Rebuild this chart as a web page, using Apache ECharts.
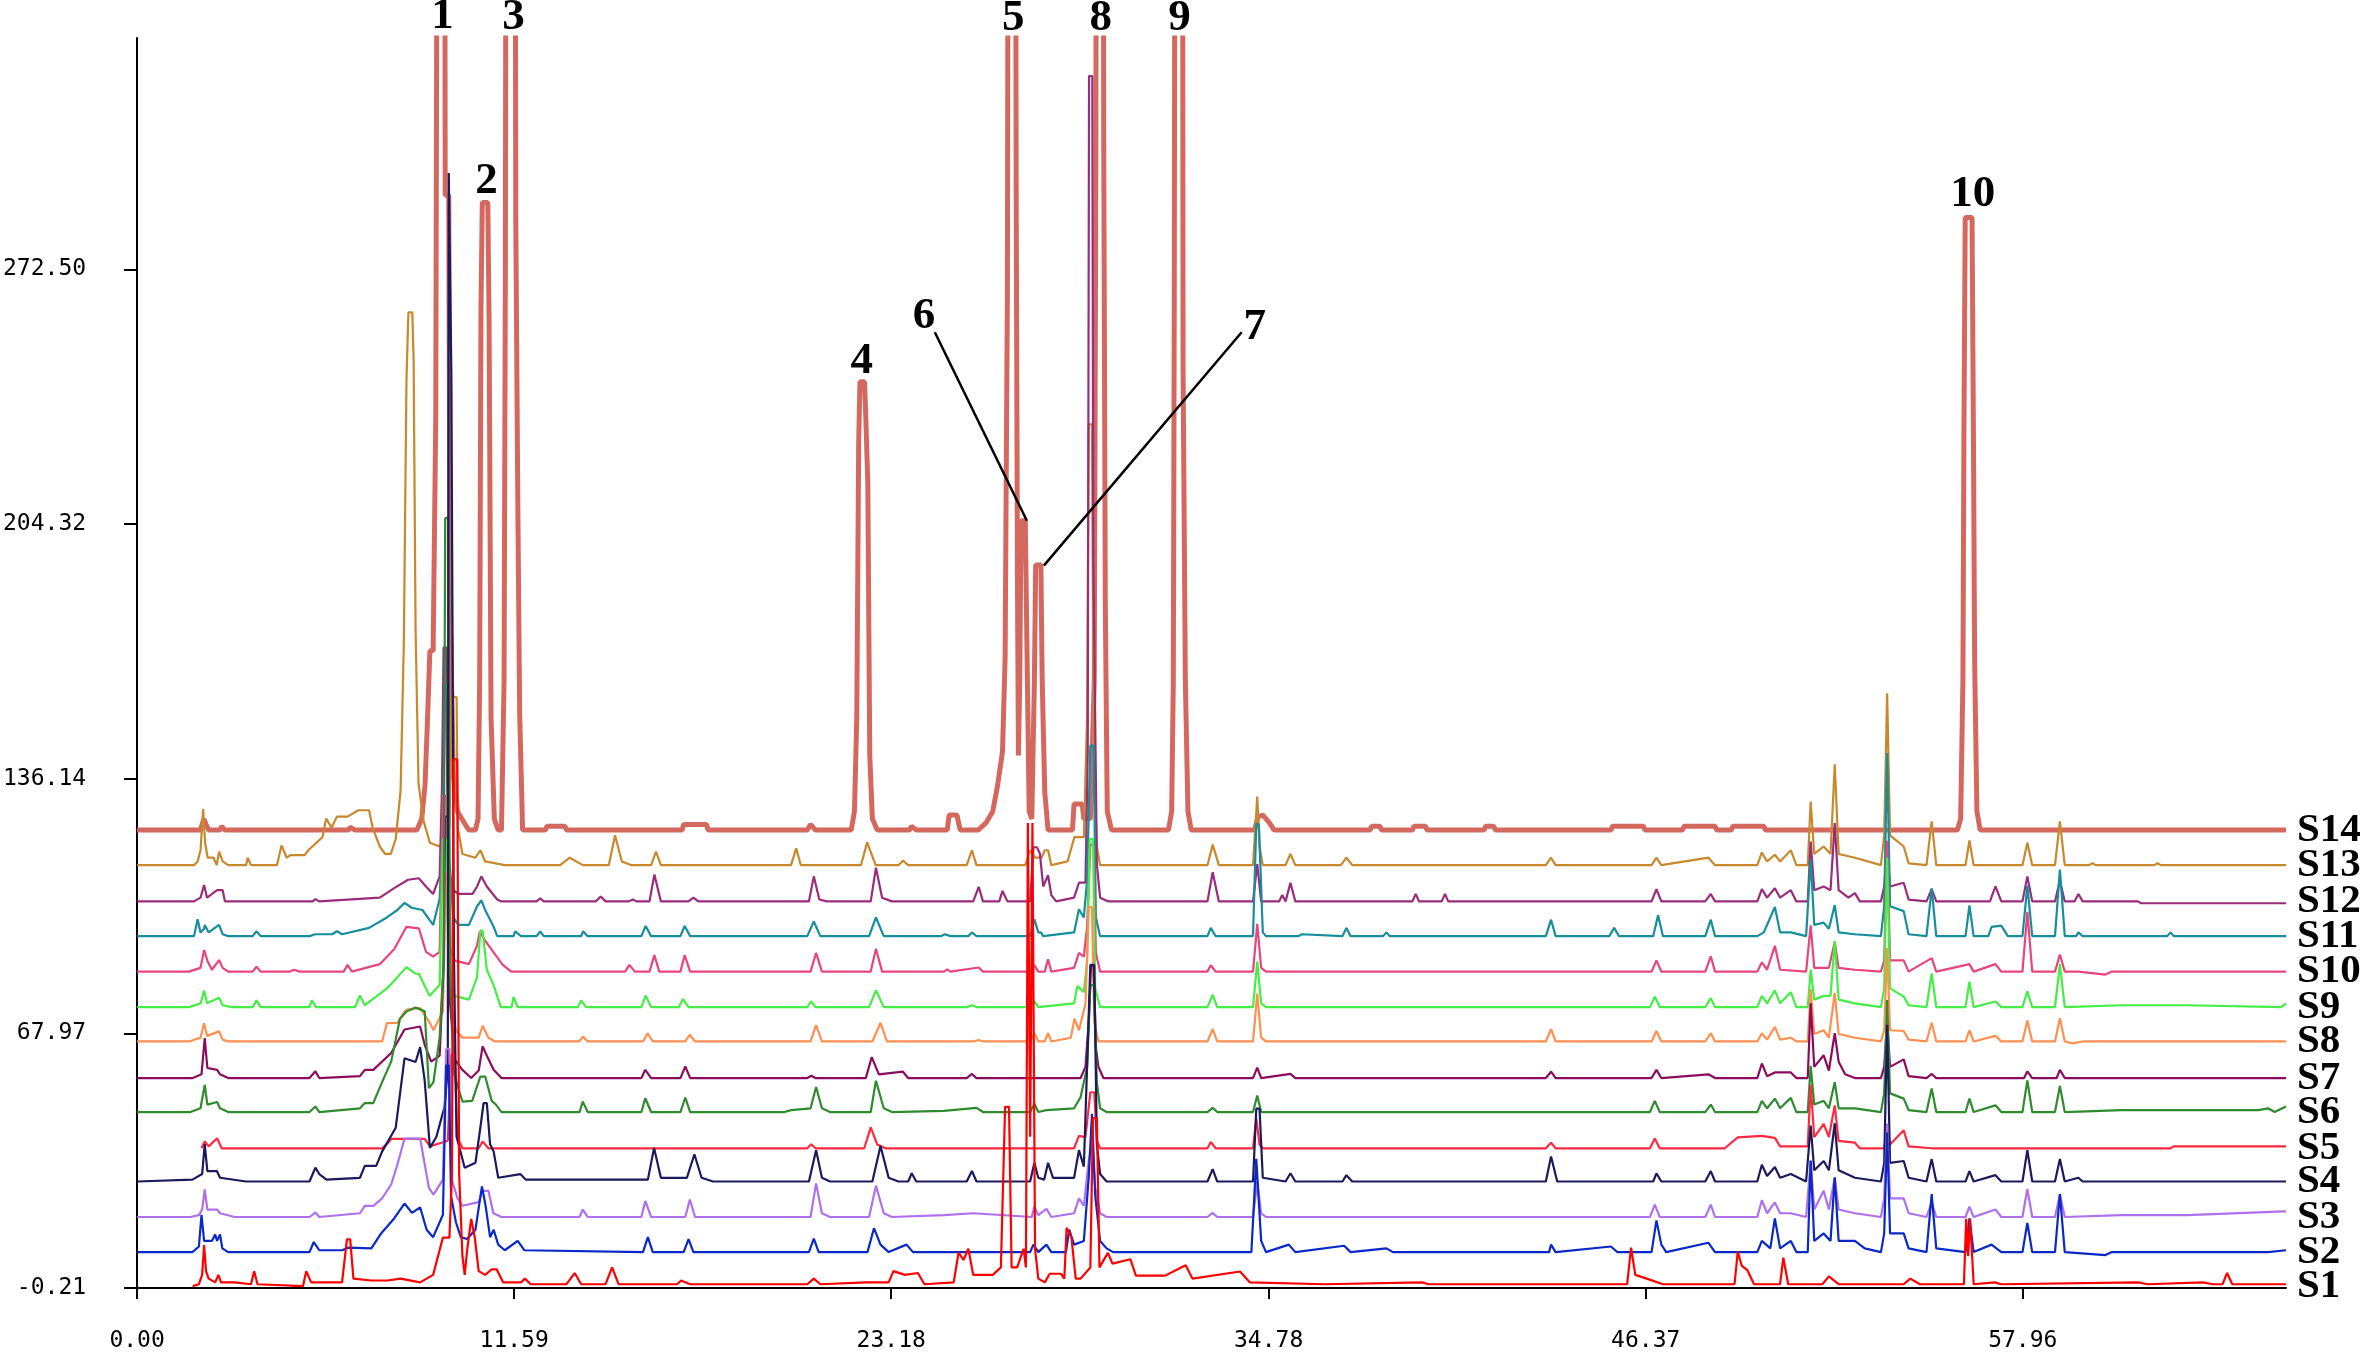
<!DOCTYPE html>
<html>
<head>
<meta charset="utf-8">
<title>HPLC fingerprints S1-S14</title>
<script src="https://cdn.jsdelivr.net/npm/echarts@6.0.0/dist/echarts.min.js"></script>
<style>
  html, body { margin: 0; padding: 0; background: #fff; }
  #chart { width: 2362px; height: 1353px; }
</style>
</head>
<body>
<div id="chart"></div>
<script>
// axis ticks as printed on the original
const xTicks = [0, 11.59, 23.18, 34.78, 46.37, 57.96];
const yTicks = [-0.21, 67.97, 136.14, 204.32, 272.50];
const xMax = 66.05;
const yMin = -0.21;
const yMax = 334.47;

const sampleNames = ['S1', 'S2', 'S3', 'S4', 'S5', 'S6', 'S7', 'S8', 'S9', 'S10', 'S11', 'S12', 'S13', 'S14'];
// vertical offset of each chromatogram
const baselines = [0.3, 9.4, 18.8, 28.3, 37.2, 46.9, 56.0, 65.8, 75.0, 84.5, 94.0, 103.3, 113.0, 122.4];
const colors = ['#ff0000', '#0a28c8', '#b070ec', '#1a1a5c', '#ff2a40', '#2e8b2e', '#8b0c5e',
  '#ff9050', '#44ee44', '#e8447e', '#168e9c', '#9a2c7c', '#c8882c', '#d4685f'];

// [retention time (min), signal above own baseline]
const s1 = [[1.71,0],[1.9,0.5],[2.0,3],[2.06,11],[2.12,4],[2.2,2],[2.4,1],[2.5,3],[2.58,1],[3.0,1],[3.5,0.5],[3.6,4],[3.7,0.5],[5.1,0],[5.2,4],[5.35,1],[6.3,1],[6.45,12.5],[6.55,12.5],[6.65,2],[7.2,1.5],[7.7,1.5],[8.1,2],[8.7,1],[9.1,3],[9.4,13],[9.6,13],[9.68,30],[9.72,141],[9.84,141],[9.9,30],[10.0,8],[10.07,3],[10.15,10],[10.27,18],[10.38,13],[10.5,4],[10.7,3],[10.9,4.5],[11.05,4.5],[11.25,1],[11.8,1],[11.92,2],[12.1,0.5],[13.2,0.5],[13.45,3.5],[13.65,0.5],[14.4,0.5],[14.6,5],[14.8,0.5],[16.6,0.5],[16.72,1.5],[17.0,0.5],[20.6,0.5],[20.8,2],[21.0,0.5],[22.4,1],[23.1,1],[23.25,4],[23.6,3],[24.0,3.5],[24.2,0.5],[25.1,1],[25.25,9],[25.4,7],[25.55,10],[25.7,3],[26.3,3],[26.55,5],[26.68,48],[26.8,48],[26.88,5],[27.05,5],[27.25,10],[27.32,5],[27.38,124],[27.45,40],[27.52,124],[27.6,10],[27.7,2],[27.9,1],[28.05,3.3],[28.4,3.3],[28.5,2],[28.57,15.6],[28.72,13],[28.85,2],[29.0,2],[29.3,5],[29.38,45],[29.5,45],[29.58,5],[29.84,8.9],[29.98,6],[30.53,7.2],[30.7,2.8],[31.6,2.8],[32.23,5.6],[32.44,2],[33.9,3.9],[34.2,1],[36.5,0.5],[39.5,1],[39.7,0.5],[45.8,0.5],[45.92,10.3],[46.05,3],[46.4,2],[46.9,0.5],[49.1,0.5],[49.2,9.2],[49.32,5.5],[49.5,4.2],[49.7,0.5],[50.5,0.5],[50.6,7.6],[50.75,0.5],[51.8,0.5],[52.0,2.6],[52.3,0.5],[54.3,0.5],[54.5,2],[54.8,0.5],[56.15,0.5],[56.22,18],[56.28,8],[56.34,18],[56.45,0.5],[57.1,1],[57.3,0.5],[61.5,1],[61.8,0.5],[63.5,1],[63.8,0.5],[64.1,0.5],[64.24,3.5],[64.4,0.5],[66.05,0.5]];

const s2 = [[0,0],[1.7,0],[1.9,1.5],[1.98,10],[2.06,3],[2.3,3],[2.4,4.7],[2.46,3],[2.55,4.7],[2.62,1],[2.8,0],[5.3,0],[5.43,2.7],[5.6,0.5],[6.3,0.5],[6.5,1.2],[7.2,1],[7.5,5],[7.9,9],[8.22,13],[8.45,10.5],[8.7,12],[8.9,6],[9.1,4],[9.4,10],[9.5,50],[9.58,50],[9.65,15],[9.8,8],[9.95,4],[10.14,3.5],[10.4,6],[10.6,17.6],[10.72,12],[10.85,4],[10.96,6],[11.1,2],[11.3,0.5],[11.7,3],[11.9,0.5],[15.55,0],[15.7,4],[15.85,0],[16.8,0],[16.95,3.5],[17.1,0],[20.65,0],[20.8,3.6],[20.95,0],[22.45,0],[22.65,6.4],[22.85,2],[23.1,0],[23.65,2],[23.85,0],[27.45,0],[27.55,2],[27.7,0],[27.95,2],[28.1,0],[28.55,0],[28.65,6],[28.8,2],[29.1,3],[29.25,20],[29.35,37],[29.45,15],[29.6,3],[29.8,1],[30.0,0],[34.25,0],[34.4,25],[34.55,3],[34.7,0],[35.4,2],[35.6,0],[37.1,1.7],[37.3,0],[38.4,1],[38.6,0],[43.4,0],[43.46,2],[43.6,0],[45.3,1.5],[45.5,0],[46.55,0],[46.7,8.5],[46.85,2],[47.0,0],[48.3,2.5],[48.5,0],[49.8,0],[49.94,3],[50.2,1],[50.34,9],[50.5,1],[50.83,3],[51.0,0],[51.35,0],[51.44,24.5],[51.55,3],[51.84,5],[52.05,3],[52.18,20],[52.3,3],[52.8,3],[53.1,1],[53.6,0],[53.7,5],[53.79,32],[53.88,5],[54.3,5],[54.45,1],[55.0,0],[55.16,15.5],[55.3,1],[56.2,0],[56.32,9],[56.45,0],[57.0,2],[57.3,0],[57.95,0],[58.1,7.8],[58.25,0],[58.95,0],[59.1,15.5],[59.25,0],[60.5,-0.8],[60.7,0],[65.5,0],[66.05,0.5]];

const s3 = [[0,0],[1.64,0],[1.9,0.5],[2.0,2],[2.08,7.4],[2.16,2],[2.46,2],[2.55,1],[3.0,0],[5.3,0],[5.48,1.2],[5.6,0],[6.85,1],[7.0,3],[7.26,3],[7.53,5],[7.81,8.7],[8.0,14],[8.22,21],[8.7,21],[8.97,7.8],[9.11,6],[9.4,10],[9.5,45],[9.6,45],[9.67,10],[9.85,5],[10.0,3],[10.5,4],[10.62,7],[10.8,7],[10.95,1],[11.2,0],[13.6,0],[13.7,2],[13.85,0],[15.5,0],[15.62,4.3],[15.8,0],[16.85,0],[16.99,4.7],[17.15,0],[20.7,0],[20.87,9],[21.05,1],[21.3,0],[22.5,0],[22.71,8.4],[22.95,1],[23.2,0],[24.8,0.5],[25.7,1],[27.5,0],[27.58,2.8],[27.7,0.5],[27.95,2.2],[28.1,0],[28.8,1],[28.95,5],[29.1,3],[29.25,15],[29.35,20],[29.45,8],[29.6,1],[29.8,0],[32.9,0],[33.06,1.1],[33.2,0],[34.3,0],[34.43,9.5],[34.55,1],[34.7,0],[46.5,0],[46.65,3.3],[46.8,0],[48.2,0],[48.37,3.3],[48.5,0],[49.8,0],[49.94,4.5],[50.1,1],[50.34,3.9],[50.5,1],[50.83,1],[51.3,0],[51.44,15],[51.55,2],[51.84,7],[52.0,2],[52.18,10.5],[52.3,2],[52.8,1],[53.6,0],[53.7,5],[53.79,25],[53.88,5],[54.3,5],[54.45,1],[55.0,0],[55.16,3.9],[55.3,0],[56.2,0],[56.32,2.8],[56.45,0],[57.12,2],[57.3,0],[57.95,0],[58.1,7.5],[58.25,0],[58.95,0],[59.1,6],[59.25,0],[61.0,0.5],[63.0,0.5],[66.0,1.5],[66.05,1.5]];

const s4 = [[0,0],[1.7,0.5],[2.0,2],[2.08,10],[2.16,2.8],[2.45,2.8],[2.55,1],[3.35,0],[5.3,0],[5.48,3.7],[5.6,2],[5.82,0.5],[6.85,1],[7.0,4.2],[7.35,4.2],[7.53,8],[7.95,14.4],[8.22,33],[8.56,32],[8.7,36],[8.84,27],[9.0,9],[9.2,12],[9.45,20],[9.55,30],[9.58,270],[9.63,270],[9.66,216],[9.7,216],[9.74,60],[9.82,12],[10.07,3.7],[10.4,5],[10.56,15],[10.65,21],[10.75,21],[10.85,10],[10.96,8],[11.1,1],[11.78,2],[11.95,0.5],[13.2,0.5],[15.7,0.5],[15.89,9],[16.1,1],[16.9,1],[17.13,7.3],[17.35,1],[17.7,0],[20.65,0],[20.87,8.4],[21.05,1],[21.3,0],[22.6,0],[22.85,9.5],[23.1,1],[23.4,0],[23.7,0],[23.81,2.2],[23.95,0],[25.5,0],[25.66,2.8],[25.8,0],[27.45,0],[27.58,5],[27.7,1],[27.88,0.5],[28.0,5],[28.15,1],[28.8,1],[28.95,8.4],[29.1,4],[29.3,58],[29.42,58],[29.5,10],[29.6,2],[29.8,0],[32.9,0],[33.06,3.3],[33.2,0],[34.3,0],[34.4,19.5],[34.5,19.5],[34.6,1],[35.3,0],[35.45,2.2],[35.6,0],[37.05,0],[37.17,1.7],[37.35,0],[43.3,0],[43.46,6.7],[43.65,0],[46.6,0],[46.7,2.2],[46.85,0],[48.2,0],[48.37,2.8],[48.5,0],[49.8,0],[49.94,4.5],[50.1,1.5],[50.34,3.9],[50.5,1],[50.83,2],[51.3,0],[51.44,15],[51.55,3],[51.84,5.5],[52.0,3],[52.18,15.6],[52.3,3],[52.8,1],[53.6,0],[53.7,5],[53.79,42],[53.88,5],[54.3,5.5],[54.45,1],[55.0,0],[55.16,6],[55.3,0],[56.2,0],[56.32,2.8],[56.45,0],[57.12,1.7],[57.3,0],[57.95,0],[58.1,8.4],[58.25,0],[58.95,0],[59.1,6],[59.25,0],[59.67,1],[59.8,0],[66.05,0]];

const s5 = [[1.98,0],[2.08,1.8],[2.2,0.5],[2.46,2.7],[2.6,0],[7.53,0],[7.7,1.3],[7.81,2.5],[8.84,2.5],[9.0,0.5],[9.55,2],[9.66,25],[9.76,25],[9.84,3],[10.0,0],[10.5,0],[10.62,1.8],[10.8,0],[20.6,0],[20.72,1.1],[20.85,0],[22.35,0],[22.55,5.6],[22.75,1],[23.0,0],[28.8,0],[28.95,3.3],[29.15,3],[29.3,15],[29.42,15],[29.5,2],[29.6,0],[32.9,0],[33.0,1.7],[33.15,0],[34.3,0],[34.4,8],[34.5,1],[34.6,0],[43.3,0],[43.46,1.5],[43.6,0],[46.5,0],[46.65,2.6],[46.8,0],[48.8,0],[49.2,2.9],[49.94,3.3],[50.34,2.8],[50.5,0.5],[51.35,0.5],[51.44,17],[51.55,3],[51.84,6.5],[52.0,3],[52.18,11.5],[52.3,2],[52.8,1.5],[52.95,0],[53.7,0],[53.79,6],[53.88,1],[54.3,4.8],[54.45,0.5],[55.16,0],[62.5,0],[62.6,0.5],[66.05,0.5]];

const s6 = [[0,0],[1.64,0],[1.95,1],[2.08,7.3],[2.16,2],[2.46,2.7],[2.55,1],[2.8,0],[5.3,0],[5.48,1.5],[5.6,0],[6.85,1],[7.0,2.4],[7.26,2.4],[7.53,8],[7.81,13.5],[8.08,25],[8.29,27],[8.56,28],[8.84,27],[8.97,6.4],[9.11,8],[9.3,20],[9.42,40],[9.47,159],[9.56,159],[9.61,40],[9.75,10],[10.0,2.8],[10.3,3],[10.55,9.5],[10.7,9.5],[10.9,3],[11.03,2],[11.2,0],[13.6,0],[13.7,2.8],[13.85,0],[15.5,0],[15.62,3.7],[15.8,0],[16.7,0],[16.85,3.9],[17.0,0],[19.9,0],[20.1,0.5],[20.7,1],[20.87,6.7],[21.05,1],[21.3,0],[22.55,0],[22.71,8.4],[22.95,1],[23.2,0],[24.8,0.3],[25.8,1.1],[26.0,0],[27.45,0],[27.58,2.2],[27.7,0],[27.95,0.5],[28.8,1],[29.0,4],[29.2,12],[29.3,34],[29.42,34],[29.5,8],[29.6,1],[29.8,0],[32.9,0],[33.06,1.1],[33.2,0],[34.3,0],[34.43,4.4],[34.55,0],[46.5,0],[46.65,3],[46.8,0],[48.2,0],[48.37,2],[48.5,0],[49.8,0],[49.94,3],[50.1,1],[50.34,3.6],[50.5,1],[50.83,3.8],[51.0,0],[51.35,0],[51.44,12.4],[51.55,2],[51.84,3],[52.0,1],[52.18,8],[52.3,1],[52.8,1],[53.6,0],[53.7,5],[53.79,30],[53.88,5],[54.3,3.6],[54.45,0.5],[55.0,0],[55.16,6.3],[55.3,0],[56.2,0],[56.32,3.6],[56.45,0],[57.12,1.8],[57.3,0],[57.95,0],[58.1,8.5],[58.25,0],[58.95,0],[59.1,7],[59.25,0],[61.0,0.5],[63.0,0.5],[65.2,0.5],[65.5,1],[65.7,0],[66.05,1.5]];

const s7 = [[0,0],[1.71,0],[1.98,1],[2.08,10.7],[2.16,2.7],[2.46,2.2],[2.55,1],[2.8,0],[5.3,0],[5.48,1.8],[5.6,0],[6.85,0.5],[7.0,2.2],[7.26,2.2],[7.81,6.7],[8.22,13],[8.7,13.8],[8.84,8.9],[9.04,4.4],[9.3,6],[9.42,30],[9.47,70],[9.56,70],[9.62,20],[9.76,5],[10.0,2.2],[10.27,0],[10.5,2],[10.62,8.5],[10.75,6],[10.96,2.2],[11.2,0],[15.5,0],[15.62,2.2],[15.8,0],[16.7,0],[16.85,3.1],[17.0,0],[20.6,0],[20.72,0.6],[20.85,0],[22.4,0],[22.58,5.6],[22.8,1],[23.54,1.7],[23.7,0],[25.5,0],[25.66,1.1],[25.8,0],[29.0,0],[29.15,3],[29.25,15],[29.32,30],[29.4,30],[29.47,8],[29.55,3],[29.7,0],[34.3,0],[34.43,2.8],[34.55,0],[35.45,1.1],[35.6,0],[43.3,0],[43.46,1.7],[43.6,0],[46.55,0],[46.7,2.2],[46.85,0],[48.3,1],[48.5,0],[49.8,0],[49.94,3.9],[50.1,0.5],[50.34,1.5],[50.83,1.5],[51.0,0],[51.35,0],[51.44,20],[51.55,3],[51.84,6.1],[52.0,2],[52.18,12],[52.3,4.4],[52.5,1],[52.8,0],[53.6,0],[53.7,3],[53.79,15],[53.88,3],[54.3,5],[54.45,0.5],[55.0,0],[55.16,1.1],[55.3,0],[58.0,0],[58.1,1.8],[58.25,0],[59.0,0],[59.1,2.2],[59.25,0],[66.05,0]];

const s8 = [[0,0],[1.59,0],[1.95,1],[2.06,4.9],[2.15,1.5],[2.52,2.7],[2.63,0.5],[2.8,0],[7.53,0],[7.68,4.9],[8.0,5],[8.22,8],[8.29,8.5],[8.7,8.9],[9.0,5],[9.11,3],[9.4,8],[9.5,45],[9.6,45],[9.66,10],[9.8,3],[10.0,1],[10.5,1],[10.62,4.2],[10.8,1],[11.0,0],[13.6,0],[13.7,1.3],[13.85,0],[15.55,0],[15.69,2.2],[15.85,0],[16.85,0],[16.99,1.8],[17.15,0],[20.7,0],[20.87,4.4],[21.05,0],[22.6,0],[22.85,5],[23.05,0],[25.7,0],[25.87,0.4],[26.0,0],[27.45,0],[27.58,2.2],[27.7,0],[27.9,0],[28.0,2.2],[28.1,0],[28.7,1],[28.81,6.1],[28.95,3],[29.15,10],[29.25,36],[29.35,36],[29.42,5],[29.55,0],[32.9,0],[33.06,3.3],[33.2,0],[34.3,0],[34.43,12.8],[34.55,1],[34.7,0],[43.3,0],[43.46,3.3],[43.6,0],[46.55,0],[46.7,2.8],[46.85,0],[48.2,0],[48.37,2.2],[48.5,0],[49.8,0],[49.94,2.2],[50.1,0.5],[50.34,3.9],[50.5,0.5],[50.83,1],[51.0,0],[51.35,0],[51.44,14],[51.55,2],[51.84,3],[52.0,1],[52.18,13],[52.3,2],[52.8,1],[53.6,0],[53.7,3],[53.79,25],[53.88,3],[54.3,2.8],[54.45,0.5],[55.0,0],[55.16,5],[55.3,0],[56.2,0],[56.32,3],[56.45,0],[57.12,1.5],[57.3,0],[57.95,0],[58.1,5.6],[58.25,0],[58.95,0],[59.1,6.2],[59.25,0],[59.5,-0.5],[59.8,0],[66.05,0]];

const s9 = [[0,0],[1.59,0],[1.95,1],[2.06,4.4],[2.15,1],[2.52,2.5],[2.63,0.5],[2.9,0],[3.55,0],[3.67,1.8],[3.8,0],[5.3,0],[5.37,1.8],[5.5,0],[6.7,0],[6.85,3.1],[7.0,0.5],[7.68,5],[8.0,8],[8.28,10.7],[8.55,9],[8.66,8.9],[8.88,5],[8.99,3],[9.3,6],[9.4,45],[9.5,45],[9.58,8],[9.75,3],[10.2,2],[10.45,8],[10.55,20.5],[10.62,20.5],[10.75,10],[10.96,5.8],[11.18,0],[11.51,0],[11.57,2.7],[11.7,0],[13.55,0],[13.65,1.8],[13.8,0],[15.5,0],[15.63,3.1],[15.8,0],[16.65,0],[16.78,2.2],[16.95,0],[20.6,0],[20.72,1.5],[20.85,0],[22.5,0],[22.71,4.5],[22.95,0],[25.5,0],[25.66,0.5],[25.8,0],[27.45,0],[27.58,1.6],[27.7,0],[28.8,1],[28.9,5.6],[29.1,4],[29.2,12],[29.28,45],[29.38,45],[29.45,5],[29.6,0],[32.9,0],[33.06,3.3],[33.2,0],[34.3,0],[34.43,12.2],[34.55,1],[34.7,0],[46.5,0],[46.65,2.8],[46.8,0],[48.2,0],[48.37,2.4],[48.5,0],[49.8,0],[49.94,3],[50.1,1],[50.34,4.5],[50.5,1],[50.83,4],[51.0,0],[51.35,0],[51.44,10],[51.55,2],[51.84,3],[52.05,3],[52.18,17.7],[52.3,2],[52.8,1],[53.6,0],[53.7,5],[53.79,40],[53.88,5],[54.3,2.8],[54.45,0.5],[55.0,0],[55.16,9],[55.3,0],[56.2,0],[56.32,6.8],[56.45,0],[57.12,1.5],[57.3,0],[57.95,0],[58.1,4.2],[58.25,0],[58.95,0],[59.1,11.5],[59.25,0],[61.0,0.5],[63.0,0.5],[65.9,0],[66.05,1]];

const s10 = [[0,0],[1.59,0],[1.95,1],[2.06,5.8],[2.17,2.7],[2.3,0.5],[2.52,3.1],[2.63,1],[2.8,0],[3.55,0],[3.67,1.3],[3.8,0],[4.7,0],[4.82,0.5],[5.0,0],[6.35,0],[6.47,1.8],[6.6,0],[7.46,2],[7.9,6],[8.28,12],[8.66,11.6],[8.88,5.3],[9.1,4],[9.3,5.3],[9.4,47],[9.5,47],[9.57,8],[9.75,3],[10.2,2],[10.45,7],[10.53,10.7],[10.69,8.4],[11.02,4.4],[11.24,1.8],[11.5,0],[13.1,0],[13.16,0.5],[13.3,0],[15.0,0],[15.13,1.8],[15.3,0],[15.75,0],[15.9,4.4],[16.05,0],[16.7,0],[16.83,4.4],[17.0,0],[20.7,0],[20.87,5],[21.05,0],[22.55,0],[22.71,6.1],[22.9,0],[24.8,0],[24.9,0.6],[25.0,0],[25.87,1.1],[26.0,0],[27.45,0],[27.58,1.7],[27.7,0],[27.9,0],[28.0,3.3],[28.1,0],[28.8,1],[28.95,5],[29.1,4],[29.2,12],[29.3,34],[29.4,34],[29.47,5],[29.6,0],[32.9,0],[33.0,1.7],[33.15,0],[34.3,0],[34.43,12.8],[34.55,1],[34.7,0],[46.55,0],[46.7,3],[46.85,0],[48.2,0],[48.37,4.1],[48.5,0],[49.8,0],[49.94,2.5],[50.1,0.5],[50.34,6.9],[50.5,0.5],[51.3,0],[51.44,12.4],[51.55,1],[51.84,1],[52.0,1],[52.18,8],[52.3,1],[52.8,0.5],[53.6,0],[53.7,3],[53.79,35],[53.88,3],[54.3,3],[54.45,0],[55.16,3.6],[55.3,0],[56.32,2],[56.45,0],[57.12,2],[57.3,0],[57.95,0],[58.1,16],[58.25,0],[58.95,0],[59.1,4.6],[59.25,0],[59.67,0],[60.5,-0.8],[60.7,0],[66.05,0]];

const s11 = [[0,0],[1.75,0],[1.86,4.5],[1.95,1],[2.06,2],[2.08,3],[2.2,1],[2.52,3],[2.63,0.5],[2.8,0],[3.55,0],[3.67,1.3],[3.8,0],[5.3,0],[5.48,0.5],[6.0,0.5],[6.14,1.3],[6.3,0.5],[7.13,2.2],[7.68,5],[8.0,7],[8.22,8.9],[8.44,7.6],[8.77,7],[9.1,3],[9.3,10],[9.4,30],[9.47,67],[9.55,67],[9.6,20],[9.72,5],[9.87,3],[10.2,3],[10.45,8],[10.58,9.6],[10.7,7],[10.96,2.5],[11.07,0],[11.57,0],[11.62,1.3],[11.8,0],[12.28,0],[12.39,1.3],[12.5,0],[13.65,0],[13.71,1.3],[13.85,0],[15.5,0],[15.63,2.7],[15.8,0],[16.7,0],[16.83,2.7],[17.0,0],[20.6,0],[20.8,3.9],[21.0,0],[22.5,0],[22.71,5],[22.95,0],[24.7,0],[24.83,0.5],[25.0,0],[25.55,0],[25.66,1],[25.8,0],[27.45,0],[27.58,4.5],[27.7,1],[27.78,1],[27.85,0],[28.8,1],[28.95,7.2],[29.1,5],[29.2,15],[29.3,51],[29.4,51],[29.47,5],[29.6,0],[32.9,0],[33.0,2.2],[33.15,0],[34.3,0],[34.4,30],[34.48,30],[34.6,1],[34.7,0],[35.7,0],[35.8,0.5],[37.05,0],[37.17,2.2],[37.3,0],[38.3,0],[38.4,1],[38.5,0],[43.3,0],[43.46,4.4],[43.6,0],[45.25,0],[45.4,2.2],[45.55,0],[46.6,0],[46.75,5.6],[46.9,0],[48.2,0],[48.37,4.4],[48.5,0],[49.8,0],[50.0,1],[50.34,7.8],[50.5,1],[50.83,1],[51.3,0],[51.44,20.6],[51.55,3],[51.84,3.6],[52.0,2],[52.18,8.3],[52.3,1],[52.8,0.5],[53.6,0],[53.7,8],[53.79,49],[53.88,8],[54.3,6.7],[54.45,0.5],[55.0,0],[55.16,12.8],[55.3,0],[56.2,0],[56.32,8.2],[56.45,0],[56.9,0],[57.0,2.5],[57.3,2.8],[57.5,0],[57.95,0],[58.1,13.5],[58.25,0],[58.95,0],[59.1,17.8],[59.25,0],[59.6,0],[59.67,1],[59.8,0],[62.4,0],[62.5,1],[62.6,0],[66.05,0]];

const s12 = [[0,0],[1.75,0],[1.95,1],[2.06,4.4],[2.15,1],[2.46,3],[2.63,3],[2.7,0],[5.4,0],[5.48,0.6],[5.6,0],[7.46,1],[7.89,3.5],[8.33,5.8],[8.66,6.2],[8.88,4],[9.1,2],[9.3,6.7],[9.37,30],[9.42,68],[9.5,68],[9.55,10],[9.72,3],[9.87,2],[10.31,2],[10.45,4],[10.58,6.7],[10.75,4],[11.07,0.5],[11.2,0],[12.28,0],[12.39,0.8],[12.5,0],[14.1,0],[14.25,1.3],[14.4,0],[15.1,0],[15.24,0.5],[15.35,0],[15.75,0],[15.9,7.2],[16.1,0],[16.95,0],[17.1,1],[17.25,0],[20.65,0],[20.8,6.7],[20.97,0.5],[21.2,0],[22.55,0],[22.71,9],[22.9,1],[23.2,0],[25.7,0],[25.87,3.9],[26.0,0],[26.5,0],[26.6,2.8],[26.75,0],[27.45,0],[27.55,14.5],[27.66,14.5],[27.75,12.8],[27.85,4],[28.0,7],[28.1,1.7],[28.25,0],[28.8,1],[28.95,5],[29.15,5],[29.22,40],[29.26,221],[29.36,221],[29.39,93],[29.45,93],[29.5,10],[29.6,1],[29.85,0],[32.9,0],[33.06,7.8],[33.25,0],[34.3,0],[34.43,10],[34.55,0],[35.1,0],[35.2,1.7],[35.3,0],[35.45,5],[35.6,0],[39.2,0],[39.3,2],[39.4,0],[40.1,0],[40.2,2],[40.3,0],[46.55,0],[46.7,3.3],[46.85,0],[48.2,0],[48.37,2],[48.5,0],[49.8,0],[49.94,3.3],[50.1,1],[50.34,3.5],[50.5,1],[50.83,3],[51.0,0],[51.35,0],[51.44,16],[51.55,3],[51.84,4],[52.05,3],[52.18,21],[52.3,3],[52.6,1],[52.8,2.2],[52.95,0],[53.6,0],[53.7,4],[53.79,15],[53.88,4],[54.3,5],[54.45,0.5],[55.0,0],[55.16,3.3],[55.3,0],[56.95,0],[57.12,4],[57.3,0],[57.95,0],[58.1,6.7],[58.25,0],[58.95,0],[59.1,5.6],[59.25,0],[59.55,0],[59.67,2],[59.8,0],[61.5,0],[61.6,-0.5],[66.05,-0.5]];

const s13 = [[0,0],[1.75,0],[1.86,1],[1.95,4],[2.03,15],[2.09,6],[2.17,2],[2.35,2],[2.45,0],[2.52,3.6],[2.63,1],[2.8,0],[3.35,0],[3.4,2],[3.5,0],[4.3,0],[4.44,5.3],[4.6,2],[4.71,2.7],[5.15,2.7],[5.26,4],[5.7,7.5],[5.81,12.5],[5.98,10],[6.14,13],[6.47,13],[6.8,14.7],[7.13,14.7],[7.24,10],[7.46,5],[7.62,3],[7.8,3],[7.95,7],[8.1,20],[8.2,60],[8.28,130],[8.34,148],[8.46,148],[8.5,135],[8.56,63],[8.65,22],[8.8,12],[9.0,6],[9.3,5],[9.6,10],[9.68,45],[9.82,45],[9.86,10],[10.0,3],[10.4,2],[10.55,4],[10.7,1],[11.3,0],[13.0,0],[13.3,2],[13.7,0],[14.5,0],[14.69,8],[14.9,1],[15.2,0],[15.8,0],[15.95,3.6],[16.1,0],[20.1,0],[20.26,4.5],[20.4,0],[22.25,0],[22.44,6.1],[22.7,0],[23.4,0],[23.54,1.2],[23.7,0],[25.5,0],[25.66,4],[25.8,0],[27.3,0],[27.45,4],[27.6,2],[27.8,2],[27.9,4],[28.0,4],[28.1,0],[28.6,1],[28.81,7.5],[29.1,7.5],[29.2,40],[29.25,118],[29.35,118],[29.4,30],[29.5,5],[29.6,0],[32.9,0],[33.06,5.5],[33.25,0],[34.3,0],[34.43,18.4],[34.5,5],[34.6,0],[35.3,0],[35.45,3],[35.6,0],[37.0,0],[37.17,2],[37.35,0],[43.3,0],[43.46,2],[43.6,0],[46.55,0],[46.7,2],[46.85,0],[48.3,2],[48.5,0],[49.8,0],[49.94,3.4],[50.1,1],[50.34,2.8],[50.5,1],[50.83,4],[51.0,0],[51.35,0],[51.44,17],[51.55,3],[51.84,5],[52.05,3],[52.18,27],[52.3,3],[52.8,2],[53.6,0],[53.7,8],[53.79,46],[53.88,8],[54.3,5],[54.45,0.5],[55.0,0],[55.16,11.7],[55.3,0],[56.2,0],[56.32,6.6],[56.45,0],[57.95,0],[58.1,6],[58.25,0],[58.95,0],[59.1,11.7],[59.25,0],[60.0,0],[60.1,0.5],[60.2,0],[62.0,0],[62.1,0.5],[62.2,0],[66.05,0]];

const s14 = [[0,0],[1.95,0],[2.0,1.5],[2.05,3],[2.12,1.5],[2.2,0],[2.55,0],[2.6,1],[2.7,0],[6.5,0],[6.55,0.8],[6.7,0],[8.6,0],[8.75,3],[8.85,12],[8.92,28],[9.0,48],[9.1,48],[9.18,110],[9.26,400],[9.44,400],[9.47,170],[9.58,170],[9.62,60],[9.72,15],[9.85,5],[10.05,2],[10.2,0],[10.4,0],[10.48,3],[10.53,40],[10.57,139],[10.61,168],[10.78,168],[10.82,136],[10.88,30],[10.98,3],[11.1,0],[11.2,0],[11.28,40],[11.32,150],[11.36,400],[11.6,400],[11.64,163],[11.7,90],[11.76,31],[11.85,0],[12.55,0],[12.6,1],[13.15,1],[13.2,0],[16.75,0],[16.8,1.5],[17.5,1.5],[17.55,0],[20.6,0],[20.7,1.5],[20.85,0],[21.95,0],[22.05,5],[22.12,30],[22.18,104],[22.22,120],[22.36,120],[22.4,110],[22.46,93],[22.52,20],[22.6,3],[22.75,0],[23.75,0],[23.8,1],[23.95,0],[24.9,0],[24.96,4],[25.2,4],[25.3,0],[25.85,0],[26.1,2],[26.3,5],[26.45,12],[26.6,21],[26.68,46],[26.75,144],[26.8,400],[26.98,400],[27.02,172],[27.06,66],[27.09,20],[27.13,40],[27.17,82.8],[27.3,82.8],[27.35,50],[27.42,5],[27.5,3],[27.58,40],[27.62,71],[27.78,71],[27.82,40],[27.9,10],[28.0,0],[28.75,0],[28.8,7],[29.05,7],[29.1,3],[29.3,3],[29.42,40],[29.47,181],[29.5,400],[29.68,400],[29.71,188],[29.76,60],[29.82,5],[29.95,0],[31.7,0],[31.8,5],[31.85,40],[31.88,145],[31.92,400],[32.12,400],[32.15,124],[32.22,40],[32.3,5],[32.4,0],[34.35,0],[34.45,3.5],[34.6,4],[34.8,2],[34.95,0],[37.9,0],[37.95,1],[38.2,1],[38.25,0],[39.2,0],[39.25,1],[39.6,1],[39.65,0],[41.4,0],[41.45,1],[41.7,1],[41.75,0],[45.3,0],[45.35,1],[46.3,1],[46.35,0],[47.5,0],[47.55,1],[48.5,1],[48.55,0],[49.0,0],[49.05,1],[50.0,1],[50.05,0],[55.95,0],[56.05,3],[56.12,40],[56.15,105],[56.19,164],[56.4,164],[56.44,110],[56.48,45],[56.55,5],[56.65,0],[66.05,0]];

const traces = [s1, s2, s3, s4, s5, s6, s7, s8, s9, s10, s11, s12, s13, s14];

// numbered peak annotations: [text, time, value (null = above the frame), lift in px]
const peakLabels = [['1', 9.39, null, 22], ['2', 10.74, 296, 0], ['3', 11.57, null, 21], ['4', 22.27, 248, 0],
  ['5', 26.93, null, 20], ['6', 24.19, 259.9, 0], ['7', 34.35, 257, 0], ['8', 29.62, null, 20],
  ['9', 32.04, null, 20], ['10', 56.42, 292.5, 0]];
// leader lines for peaks 6 and 7: [from, to]
const leaderLines = [[[24.52, 255.7], [27.35, 205.2]], [[33.95, 255.7], [27.87, 193.2]]];

const chart = echarts.init(document.getElementById('chart'), null, { renderer: 'canvas' });

const serifBold = { fontFamily: 'Liberation Serif', fontWeight: 'bold', color: '#000' };

const series = [];
for (let i = traces.length - 1; i >= 0; i--) {
  const isTop = i === traces.length - 1;
  const mp = [{
    coord: [xMax, baselines[i]],
    label: Object.assign({ show: true, position: 'right', distance: 11, formatter: sampleNames[i], fontSize: 41 }, serifBold)
  }];
  if (isTop) {
    peakLabels.forEach(function (p) {
      mp.push({
        coord: [p[1], p[2] === null ? yMax : p[2]],
        label: Object.assign({ show: true, position: 'inside', offset: [0, -p[3]], formatter: p[0], fontSize: 45 }, serifBold)
      });
    });
  }
  series.push({
    type: 'line',
    name: sampleNames[i],
    data: traces[i].map(function (p) { return [p[0], baselines[i] + p[1]]; }),
    showSymbol: false,
    symbol: 'none',
    clip: true,
    animation: false,
    silent: true,
    lineStyle: { color: colors[i], width: isTop ? 5 : 2.2 },
    itemStyle: { color: colors[i] },
    markPoint: {
      symbol: 'circle',
      symbolSize: 0,
      animation: false,
      silent: true,
      data: mp
    },
    markLine: isTop ? {
      symbol: ['none', 'none'],
      animation: false,
      silent: true,
      label: { show: false },
      lineStyle: { color: '#000', width: 2.5, type: 'solid' },
      data: leaderLines.map(function (l) { return [{ coord: l[0] }, { coord: l[1] }]; })
    } : undefined
  });
}

const monoLabel = { fontFamily: 'DejaVu Sans Mono', fontSize: 23, color: '#000' };

chart.setOption({
  backgroundColor: '#fff',
  animation: false,
  grid: { left: 134, right: 76, top: 38, bottom: 62, containLabel: false },
  xAxis: {
    type: 'value',
    min: 0,
    max: xMax,
    axisLine: { show: true, onZero: false, lineStyle: { color: '#000', width: 2 } },
    axisTick: { show: true, length: 11, customValues: xTicks, lineStyle: { color: '#000', width: 2 } },
    axisLabel: Object.assign({ customValues: xTicks, margin: 42, formatter: function (v) { return v.toFixed(2); } }, monoLabel),
    splitLine: { show: false }
  },
  yAxis: {
    type: 'value',
    min: yMin,
    max: yMax,
    axisLine: { show: true, onZero: false, lineStyle: { color: '#000', width: 2 } },
    axisTick: { show: true, length: 13, customValues: yTicks, lineStyle: { color: '#000', width: 2 } },
    axisLabel: Object.assign({ customValues: yTicks, margin: 51, formatter: function (v) { return v.toFixed(2); } }, monoLabel),
    splitLine: { show: false }
  },
  series: series
});
</script>
</body>
</html>
